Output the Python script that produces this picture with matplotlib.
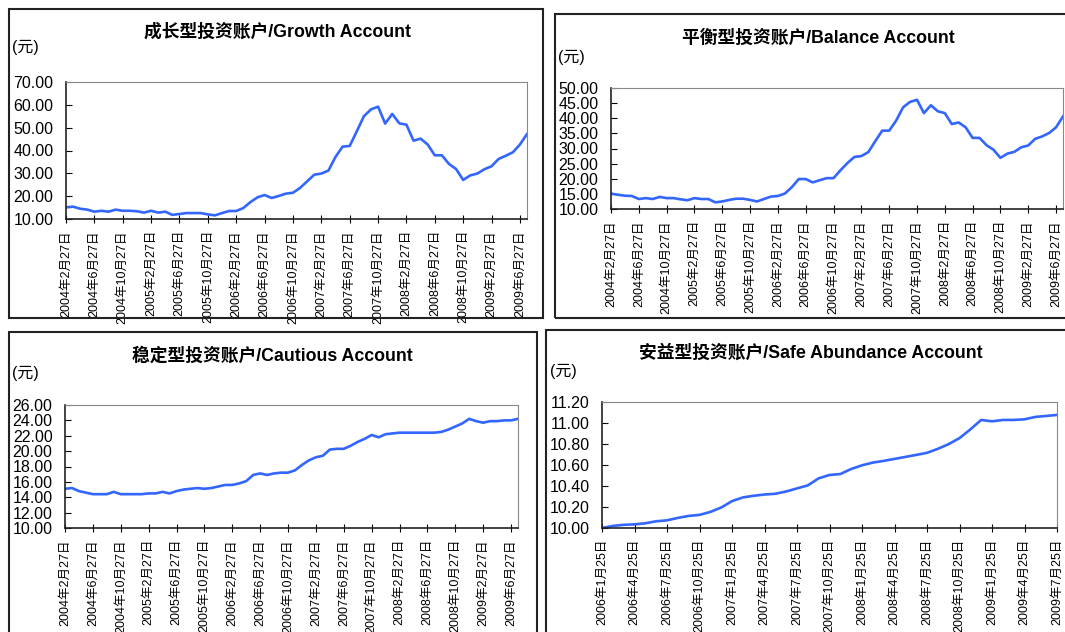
import numpy as np
import matplotlib
matplotlib.use('Agg')
import matplotlib.pyplot as plt
from matplotlib.patches import Rectangle
from matplotlib.ticker import FormatStrFormatter

plt.rcParams['font.family'] = ['Liberation Sans', 'Noto Sans CJK SC']

# monthly unit values, 2004-02-27 .. 2009-07-27
growth = [15.1, 15.4, 14.5, 14.1, 13.2, 13.6, 13.2, 14.1, 13.6, 13.6,
          13.4, 12.8, 13.6, 12.8, 13.2, 11.8, 12.2, 12.6, 12.6, 12.6,
          12.0, 11.6, 12.6, 13.5, 13.5, 14.8, 17.4, 19.5, 20.5, 19.2,
          20.1, 21.1, 21.5, 23.6, 26.5, 29.4, 29.9, 31.2, 37.2, 41.7,
          42.0, 48.4, 55.0, 58.0, 59.2, 51.8, 56.0, 51.9, 51.3, 44.3,
          45.2, 42.6, 37.9, 37.9, 34.1, 31.9, 27.1, 29.1, 29.9, 31.8,
          33.1, 36.3, 37.7, 39.2, 42.6, 47.2]
balance = [15.1, 14.7, 14.4, 14.3, 13.3, 13.6, 13.3, 14.0, 13.6, 13.6,
           13.2, 12.9, 13.6, 13.3, 13.3, 12.2, 12.5, 13.0, 13.4, 13.4,
           13.0, 12.5, 13.3, 14.1, 14.3, 15.1, 17.2, 19.9, 19.9, 18.8,
           19.5, 20.2, 20.2, 22.8, 25.2, 27.2, 27.5, 28.8, 32.4, 35.9,
           35.9, 39.2, 43.6, 45.4, 46.1, 41.7, 44.3, 42.3, 41.7, 38.1,
           38.6, 37.0, 33.5, 33.5, 31.1, 29.6, 26.9, 28.3, 28.9, 30.4,
           31.0, 33.2, 34.0, 35.1, 37.0, 40.6]
cautious = [15.1, 15.2, 14.8, 14.6, 14.4, 14.4, 14.4, 14.7, 14.4, 14.4,
            14.4, 14.4, 14.5, 14.5, 14.7, 14.5, 14.8, 15.0, 15.1, 15.2,
            15.1, 15.2, 15.4, 15.6, 15.6, 15.8, 16.1, 16.9, 17.1, 16.9,
            17.1, 17.2, 17.2, 17.5, 18.2, 18.8, 19.2, 19.4, 20.2, 20.3,
            20.3, 20.7, 21.2, 21.6, 22.1, 21.8, 22.2, 22.3, 22.4, 22.4,
            22.4, 22.4, 22.4, 22.4, 22.5, 22.8, 23.2, 23.6, 24.2, 23.9,
            23.7, 23.9, 23.9, 24.0, 24.0, 24.2]
# monthly, 2006-01-25 .. 2009-07-25
safe = [10.000, 10.020, 10.030, 10.035, 10.045, 10.064, 10.073, 10.096,
        10.115, 10.125, 10.153, 10.195, 10.256, 10.291, 10.307, 10.319,
        10.326, 10.348, 10.377, 10.406, 10.473, 10.505, 10.514, 10.562,
        10.597, 10.623, 10.639, 10.658, 10.677, 10.696, 10.716, 10.754,
        10.799, 10.856, 10.939, 11.029, 11.016, 11.029, 11.029, 11.035,
        11.058, 11.067, 11.077]

labels_2004 = ['2004年2月27日', '2004年6月27日', '2004年10月27日',
               '2005年2月27日', '2005年6月27日', '2005年10月27日',
               '2006年2月27日', '2006年6月27日', '2006年10月27日',
               '2007年2月27日', '2007年6月27日', '2007年10月27日',
               '2008年2月27日', '2008年6月27日', '2008年10月27日',
               '2009年2月27日', '2009年6月27日']
labels_2006 = ['2006年1月25日', '2006年4月25日', '2006年7月25日',
               '2006年10月25日', '2007年1月25日', '2007年4月25日',
               '2007年7月25日', '2007年10月25日', '2008年1月25日',
               '2008年4月25日', '2008年7月25日', '2008年10月25日',
               '2009年1月25日', '2009年4月25日', '2009年7月25日']

W, H = 1065, 632
fig = plt.figure(figsize=(W / 100, H / 100), dpi=100)


def box(l, t, r, b):
    fig.patches.append(Rectangle((l / W, 1 - b / H), (r - l) / W, (b - t) / H,
                                 transform=fig.transFigure, fill=False,
                                 lw=1.5, ec='#222222'))


def panel(rect, title, title_xy, unit_xy, values, labels, step, ylim, ystep):
    l, t, r, b = rect
    ax = fig.add_axes([l / W, 1 - b / H, (r - l) / W, (b - t) / H])
    ax.plot(range(len(values)), values, color='#3366ff', lw=1.9)
    ax.set_xlim(0, len(values) - 1)
    ax.set_ylim(*ylim)
    ax.set_yticks(np.arange(ylim[0], ylim[1] + ystep / 2, ystep))
    ax.yaxis.set_major_formatter(FormatStrFormatter('%.2f'))
    ax.set_xticks(range(0, len(values), step)[:len(labels)])
    ax.set_xticklabels(labels, rotation=90, fontsize=9)
    ax.tick_params(axis='y', direction='in', length=4, pad=9, labelsize=11.5)
    ax.tick_params(axis='x', direction='inout', length=6, pad=5)
    for s in ['top', 'right']:
        ax.spines[s].set_color('#888888')
    for s in ['left', 'bottom']:
        ax.spines[s].set_color('#222222')
        ax.spines[s].set_linewidth(1.2)
    fig.text(title_xy[0] / W, 1 - title_xy[1] / H, title, ha='center',
             va='center', fontsize=12.8, fontweight='bold')
    fig.text(unit_xy[0] / W, 1 - unit_xy[1] / H, '(元)', ha='left',
             va='center', fontsize=11.5)


box(9, 9, 543, 318)
box(555, 14, 1070, 318)
box(9, 332, 537, 640)
box(546, 330, 1070, 640)

panel((66, 82, 527, 219), '成长型投资账户/Growth Account', (277, 32), (12, 47),
      growth, labels_2004, 4, (10, 70), 10)
panel((611, 88, 1063, 209), '平衡型投资账户/Balance Account', (818, 38), (558, 57),
      balance, labels_2004, 4, (10, 50), 5)
panel((65, 405, 518, 528), '稳定型投资账户/Cautious Account', (272, 356), (12, 373),
      cautious, labels_2004, 4, (10, 26), 2)
panel((602, 402, 1057, 528), '安益型投资账户/Safe Abundance Account', (811, 353), (550, 371),
      safe, labels_2006, 3, (10, 11.2), 0.2)

fig.savefig('out.png', dpi=100)
